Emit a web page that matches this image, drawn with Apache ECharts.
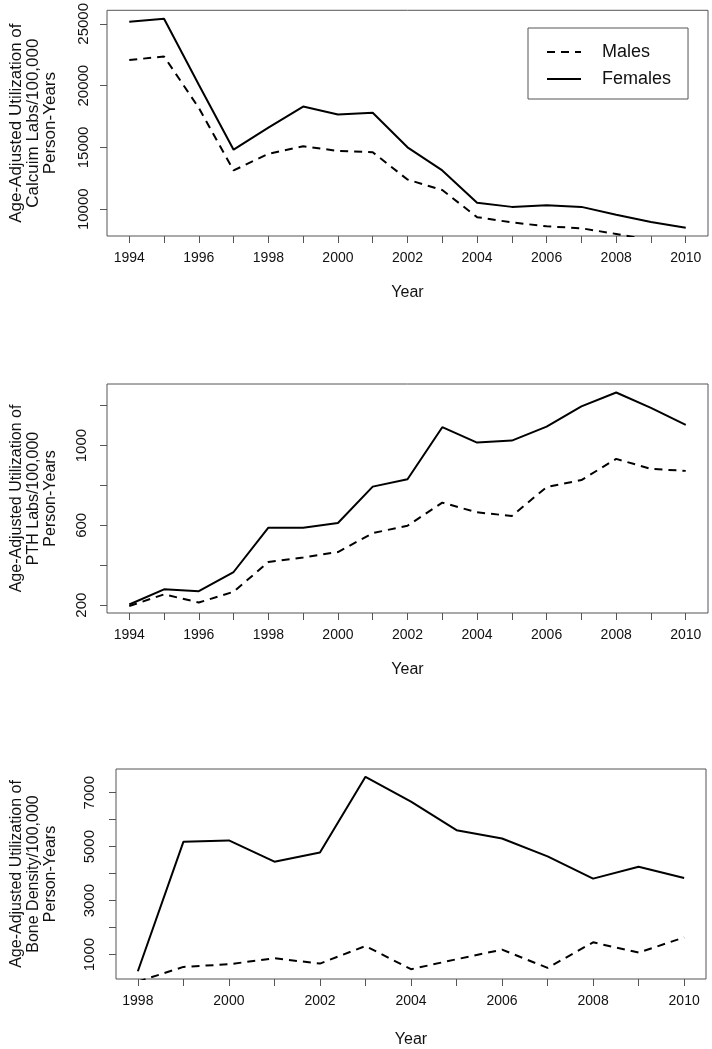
<!DOCTYPE html>
<html lang="en">
<head>
	<meta charset="UTF-8">
	<title>Utilization</title>
	<style>
		*{margin: 0; padding: 0; box-sizing: border-box;}
		body{background: #fff;}
		#view{width: 712px; height: 1049px;}
	</style>
</head>
<body>
	<div id="view"></div>
	<script src="https://cdn.jsdelivr.net/npm/echarts@6/dist/echarts.min.js"></script>
	<script>
	// values
	const years = [1994,1995,1996,1997,1998,1999,2000,2001,2002,2003,2004,2005,2006,2007,2008,2009,2010];
	const yearsBone = [1998,1999,2000,2001,2002,2003,2004,2005,2006,2007,2008,2009,2010];

	const calciumMales = [22070,22360,18200,13140,14480,15090,14720,14610,12400,11550,9360,8930,8620,8460,8000,7500,7100];
	const calciumFemales = [25180,25420,20070,14820,16600,18310,17670,17800,15010,13140,10530,10190,10320,10190,9550,8960,8510];

	const pthMales = [195,254,213,267,416,439,466,561,598,714,665,647,792,827,933,883,873];
	const pthFemales = [203,279,270,366,588,588,612,794,831,1092,1015,1025,1095,1196,1266,1189,1104];

	const boneMales = [0,545,643,865,668,1320,459,828,1184,508,1455,1074,1639];
	const boneFemales = [385,5180,5230,4443,4787,7590,6668,5611,5303,4640,3816,4258,3840];

	const yearLabels = [1994,1996,1998,2000,2002,2004,2006,2008,2010];
	const yearLabelsBone = [1998,2000,2002,2004,2006,2008,2010];
	const calciumTicks = [10000,15000,20000,25000];
	const pthTicks = [200,400,600,800,1000,1200];
	const pthLabels = [200,600,1000];
	const boneTicks = [1000,2000,3000,4000,5000,6000,7000];
	const boneLabels = [1000,3000,5000,7000];

	const font = "'Liberation Sans', Arial, sans-serif";
	const grey = '#555';

	// R style 4% padding on the range
	function pad(arr){
		var lo = Math.min.apply(null, arr), hi = Math.max.apply(null, arr);
		var d = (hi - lo) * 0.04;
		return [lo - d, hi + d];
	}
	function pairs(xs, ys){
		return xs.map(function(x, i){ return [x, ys[i]]; });
	}

	function xAxis(idx, xs, labels, gap){
		var r = pad(xs);
		return {
			type: 'value', gridIndex: idx, min: r[0], max: r[1],
			name: 'Year', nameLocation: 'middle', nameGap: gap,
			nameTextStyle: {fontFamily: font, fontSize: 16, color: '#111'},
			axisLine: {show: false},
			axisTick: {show: true, length: 7, customValues: xs, lineStyle: {color: grey}},
			axisLabel: {customValues: labels, margin: 15, fontFamily: font, fontSize: 14, color: '#111',
				formatter: function(v){ return String(v); }},
			splitLine: {show: false}
		};
	}
	function yAxis(idx, fem, ticks, labels, title, gap, margin, tsize){
		var r = pad(fem);
		return {
			type: 'value', gridIndex: idx, min: r[0], max: r[1],
			name: title, nameLocation: 'middle', nameRotate: 90, nameGap: gap,
			nameTextStyle: {fontFamily: font, fontSize: tsize, lineHeight: 17, color: '#111', align: 'center'},
			axisLine: {show: false},
			axisTick: {show: true, length: 7, customValues: ticks, lineStyle: {color: grey}},
			axisLabel: {customValues: labels, rotate: 90, margin: margin, fontFamily: font, fontSize: 15, color: '#111',
				formatter: function(v){ return String(v); }},
			splitLine: {show: false}
		};
	}
	function line(name, idx, data, dashed){
		return {
			name: name, type: 'line', xAxisIndex: idx, yAxisIndex: idx, data: data,
			symbol: 'none', silent: true, animation: false,
			lineStyle: {color: '#000', width: 2, type: dashed ? [8, 6] : 'solid'},
			itemStyle: {color: '#000'}
		};
	}

	var grids = [
		{left: 103, top: 8, width: 605, height: 228},
		{left: 103, top: 384, width: 605, height: 229},
		{left: 115, top: 769, width: 591, height: 211}
	].map(function(g){
		g.show = true; g.borderColor = grey; g.borderWidth = 1; g.backgroundColor = 'transparent';
		return g;
	});

	var option = {
		animation: false,
		grid: grids,
		xAxis: [
			xAxis(0, years, yearLabels, 49),
			xAxis(1, years, yearLabels, 49),
			xAxis(2, yearsBone, yearLabelsBone, 53)
		],
		yAxis: [
			yAxis(0, calciumFemales, calciumTicks, calciumTicks, 'Age-Adjusted Utilization of\nCalcuim Labs/100,000\nPerson-Years', 48, 16, 17),
			yAxis(1, pthFemales, pthTicks, pthLabels, 'Age-Adjusted Utilization of\nPTH Labs/100,000\nPerson-Years', 48, 18, 16),
			yAxis(2, boneFemales, boneTicks, boneLabels, 'Age-Adjusted Utilization of\nBone Density/100,000\nPerson-Years', 57, 19, 16)
		],
		legend: {
			show: true, orient: 'vertical', left: 528, top: 28,
			data: ['Males', 'Females'],
			padding: [14, 17, 10, 18],
			itemGap: 7, itemWidth: 34, itemHeight: 14,
			itemStyle: {opacity: 0},
			borderColor: grey, borderWidth: 1,
			textStyle: {fontFamily: font, fontSize: 18, lineHeight: 20, color: '#111', padding: [0, 0, 0, 16]}
		},
		series: [
			line('Males', 0, pairs(years, calciumMales), true),
			line('Females', 0, pairs(years, calciumFemales), false),
			line('Males', 1, pairs(years, pthMales), true),
			line('Females', 1, pairs(years, pthFemales), false),
			line('Males', 2, pairs(yearsBone, boneMales), true),
			line('Females', 2, pairs(yearsBone, boneFemales), false)
		]
	};
	var myChart = echarts.init(document.getElementById('view'));
	myChart.setOption(option);
	</script>
</body>
</html>
